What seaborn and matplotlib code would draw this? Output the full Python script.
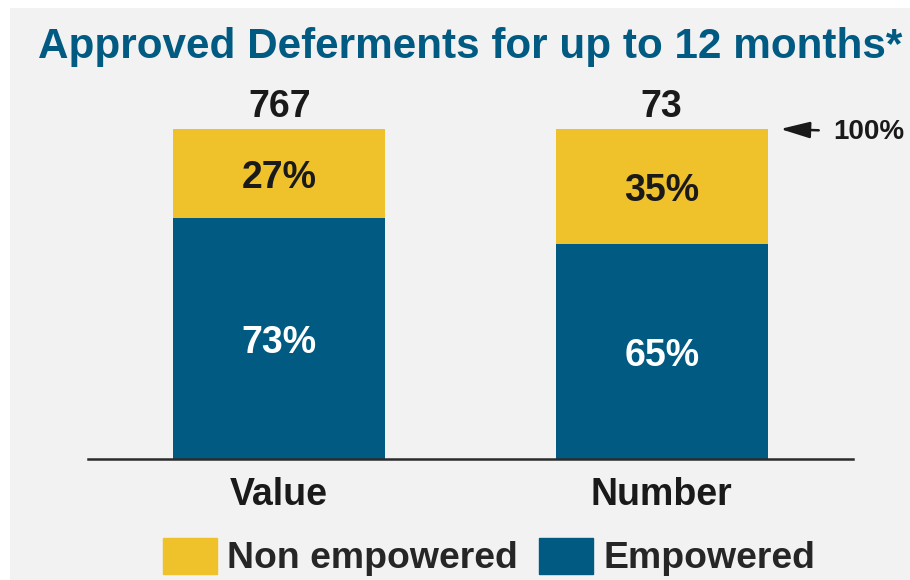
import matplotlib
matplotlib.use("Agg")
import matplotlib.pyplot as plt
import matplotlib.patches as mpatches
import seaborn as sns
import pandas as pd

# data
categories = ["Value", "Number"]
empowered = [73, 65]
non_empowered = [27, 35]
totals = ["767", "73"]

YELLOW = "#EFC12A"
BLUE = "#005A82"
BG = "#F2F2F2"

sns.set_theme(style="white")
plt.rcParams["font.family"] = ["Liberation Sans", "DejaVu Sans"]
plt.rcParams["font.weight"] = "bold"

df = pd.DataFrame({
    "category": categories,
    "empowered": empowered,
    "non_empowered": non_empowered,
})
df["total"] = df["empowered"] + df["non_empowered"]

fig = plt.figure(figsize=(9.1, 5.8), dpi=100, facecolor="white")
# grey slide panel behind everything
fig.patches.append(mpatches.Rectangle((10 / 910, 0), 1, 1 - 8 / 580,
                                      transform=fig.transFigure,
                                      facecolor=BG, edgecolor="none", zorder=-5))

ax = fig.add_axes([88 / 910, 1 - 459 / 580, 765 / 910, 330 / 580])
ax.set_facecolor("none")
ax.set_zorder(2)

# stacked bars: full stack in yellow, empowered part in blue on top
sns.barplot(data=df, x="category", y="total", color=YELLOW, width=0.553,
            saturation=1, linewidth=0, ax=ax, zorder=2)
sns.barplot(data=df, x="category", y="empowered", color=BLUE, width=0.553,
            saturation=1, linewidth=0, ax=ax, zorder=3)

ax.set_xlim(-0.5, 1.5)
ax.set_ylim(0, 100)
ax.set_xlabel("")
ax.set_ylabel("")
ax.set_yticks([])
for s in ["top", "right", "left"]:
    ax.spines[s].set_visible(False)
ax.spines["bottom"].set_color("#2b2b2b")
ax.spines["bottom"].set_linewidth(1.8)
ax.spines["bottom"].set_zorder(4)
ax.tick_params(axis="x", length=0, pad=13, labelsize=27, labelcolor="#1a1a1a")
for lbl in ax.get_xticklabels():
    lbl.set_fontweight("bold")

for i, row in df.iterrows():
    e, n, t = row["empowered"], row["non_empowered"], row["total"]
    ax.text(i, e / 2, f"{e}%", ha="center", va="center_baseline",
            color="white", fontsize=27, fontweight="bold", zorder=5)
    ax.text(i, e + n / 2, f"{n}%", ha="center", va="center_baseline",
            color="#1a1a1a", fontsize=27, fontweight="bold", zorder=5)
    ax.text(i, t + 3.6, totals[i], ha="center", va="baseline",
            color="#1a1a1a", fontsize=27, fontweight="bold", clip_on=False)

ax.annotate("100%", xy=(1.31, 100), xytext=(1.448, 100),
            ha="left", va="center_baseline", fontsize=20, fontweight="bold",
            color="#1a1a1a", annotation_clip=False,
            arrowprops=dict(arrowstyle="-|>,head_length=0.9,head_width=0.25",
                            mutation_scale=20, lw=1.8, color="#1a1a1a",
                            shrinkA=8, shrinkB=0))

fig.text(38 / 910, 1 - 58 / 580, "Approved Deferments for up to 12 months*",
         ha="left", va="baseline", fontsize=30.4, fontweight="bold", color=BLUE)

handles = [mpatches.Patch(color=YELLOW, label="Non empowered"),
           mpatches.Patch(color=BLUE, label="Empowered")]
fig.legend(handles=handles, loc="center", bbox_to_anchor=(489 / 910, 1 - 557 / 580),
           ncol=2, frameon=False, prop={"size": 26.9, "weight": "bold"},
           handlelength=1.45, handleheight=1.1, handletextpad=0.27,
           columnspacing=0.58, borderpad=0, borderaxespad=0)

fig.savefig("out.png", dpi=100, facecolor=fig.get_facecolor())
